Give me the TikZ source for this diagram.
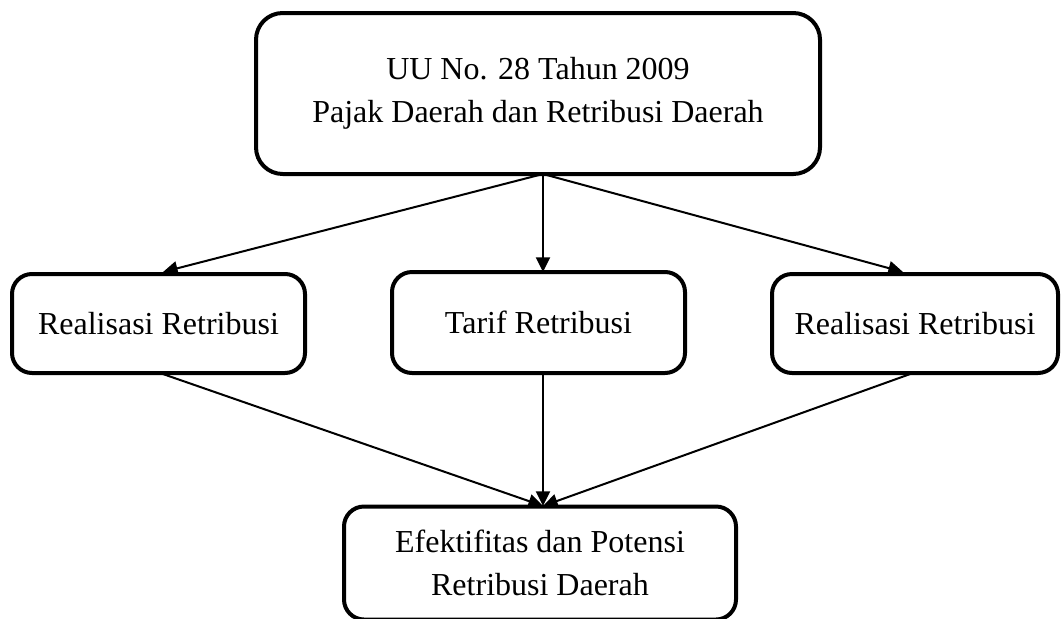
\documentclass[tikz,border=0pt]{standalone}
\usepackage{fontspec}
\setmainfont{Liberation Serif}
\usetikzlibrary{arrows.meta}
\begin{document}
\begin{tikzpicture}[x=0.75pt,y=-0.75pt,
  box/.style={draw=black, line width=3pt, rounded corners=15pt, outer sep=0pt, inner sep=0pt,
    align=center, font=\fontsize{24}{32.5}\selectfont, fill=white},
  conn/.style={line width=1.5pt, -{Triangle[length=11pt,width=10.5pt]}}]
\useasboundingbox (0,0) rectangle (1062,618);
\coordinate (src) at (543,174);
\coordinate (tl) at (163,272);
\coordinate (tm) at (543,272);
\coordinate (tr) at (903,272);
\coordinate (bl) at (160,373);
\coordinate (bm) at (543,373);
\coordinate (br) at (913,373);
\coordinate (dst) at (543,506);
\node[box, rounded corners=20pt, minimum width=564*0.75pt, minimum height=161*0.75pt] (top) at (538,93.5)
  {UU No. 28 Tahun 2009\\Pajak Daerah dan Retribusi Daerah};
\node[box, minimum width=293*0.75pt, minimum height=99*0.75pt] (left) at (158.5,323.5) {Realisasi Retribusi};
\node[box, minimum width=293*0.75pt, minimum height=101*0.75pt] (mid) at (538.5,322.5) {Tarif Retribusi};
\node[box, minimum width=286*0.75pt, minimum height=99*0.75pt] (right) at (915,323.5) {Realisasi Retribusi};
\node[box, minimum width=392*0.75pt, minimum height=113*0.75pt, text depth=0pt] (bot) at (540,563)
  {Efektifitas dan Potensi\\Retribusi Daerah};
\draw[conn] (src) -- (tl);
\draw[conn] (src) -- (tm);
\draw[conn] (src) -- (tr);
\draw[conn] (bl) -- (dst);
\draw[conn] (bm) -- (dst);
\draw[conn] (br) -- (dst);
\end{tikzpicture}
\end{document}
